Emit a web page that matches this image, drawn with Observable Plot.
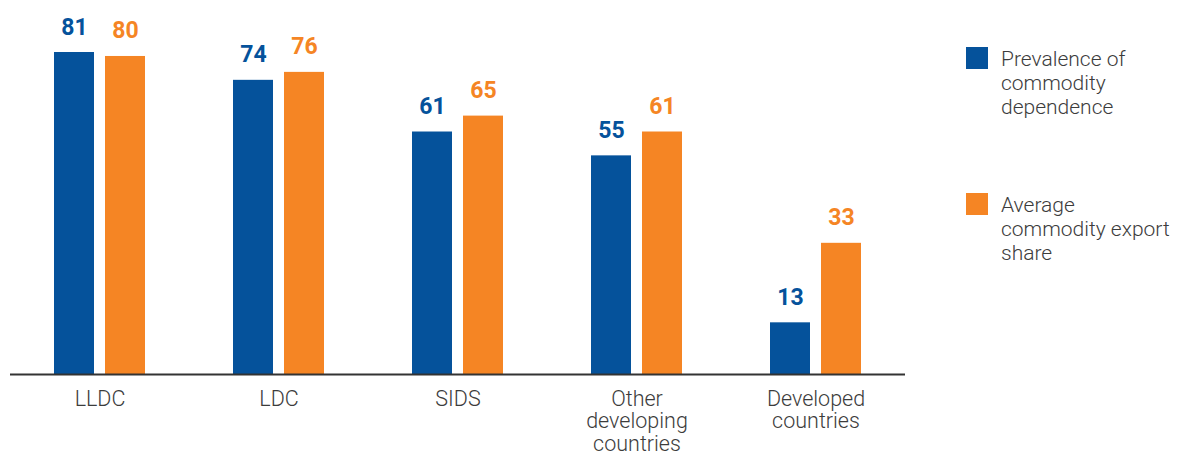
<!DOCTYPE html>
<html>
<head>
<meta charset="utf-8">
<script src="https://cdn.jsdelivr.net/npm/d3@7"></script>
<script src="https://cdn.jsdelivr.net/npm/@observablehq/plot@0.6"></script>
<style>
  body { margin: 0; background: #fff; }
  #wrap { position: relative; width: 1179px; height: 458px; font-family: Roboto, sans-serif; }
  #chart { position: absolute; left: 0; top: 0; }
  .legend { position: absolute; left: 966px; font-family: Roboto, sans-serif; font-weight: 300; font-size: 21px; line-height: 24px; color: #3c3c3c; }
  .legend .sw { position: absolute; left: 0; top: 0; width: 22px; height: 22px; }
  .legend .lbl { position: absolute; left: 35px; top: 0px; width: 200px; }
</style>
</head>
<body>
<div id="wrap">
  <div id="chart"></div>
  <div id="legend"></div>
</div>
<script>
const categories = ["LLDC", "LDC", "SIDS", "Other developing countries", "Developed countries"];
const tickLabels = ["LLDC", "LDC", "SIDS", "Other\ndeveloping\ncountries", "Developed\ncountries"];
const seriesNames = ["Prevalence of commodity dependence", "Average commodity export share"];
const legendLabels = ["Prevalence of<br>commodity<br>dependence", "Average<br>commodity export<br>share"];
const prevalence = [81, 74, 61, 55, 13];
const exportShare = [80, 76, 65, 61, 33];
const colors = ["#05529b", "#f58524"];

const prevData = categories.map((c, i) => ({category: c, value: prevalence[i]}));
const shareData = categories.map((c, i) => ({category: c, value: exportShare[i]}));
const ymax = d3.max([...prevalence, ...exportShare]);

const chart = Plot.plot({
  width: 1179,
  height: 458,
  marginLeft: 10,
  marginRight: 274,
  marginTop: 52,
  marginBottom: 84,
  style: {fontFamily: "Roboto, sans-serif", background: "white"},
  x: {type: "band", domain: categories, padding: 0, axis: null},
  y: {domain: [0, ymax], axis: null},
  marks: [
    Plot.barY(prevData, {x: "category", y: "value", fill: colors[0], insetLeft: 44, insetRight: 95}),
    Plot.barY(shareData, {x: "category", y: "value", fill: colors[1], insetLeft: 95, insetRight: 44}),
    Plot.ruleY([0], {stroke: "#333", strokeWidth: 2}),
    Plot.text(prevData, {x: "category", y: "value", text: d => String(d.value), dx: -25.5, dy: -18, lineAnchor: "bottom", fill: colors[0], fontWeight: 700, fontSize: 23}),
    Plot.text(shareData, {x: "category", y: "value", text: d => String(d.value), dx: 25.5, dy: -18, lineAnchor: "bottom", fill: colors[1], fontWeight: 700, fontSize: 23}),
    Plot.axisX({
      tickSize: 0,
      tickPadding: 15,
      tickFormat: d => tickLabels[categories.indexOf(d)],
      fontSize: 21.5,
      fontWeight: 300,
      lineHeight: 1.06,
      fill: "#3c3c3c",
      label: null
    })
  ]
});
document.getElementById("chart").appendChild(chart);

const legend = document.getElementById("legend");
const tops = [47, 193];
seriesNames.forEach((name, i) => {
  const item = document.createElement("div");
  item.className = "legend";
  item.style.top = tops[i] + "px";
  item.innerHTML = `<div class="sw" style="background:${colors[i]}"></div><div class="lbl">${legendLabels[i]}</div>`;
  legend.appendChild(item);
});
</script>
</body>
</html>
